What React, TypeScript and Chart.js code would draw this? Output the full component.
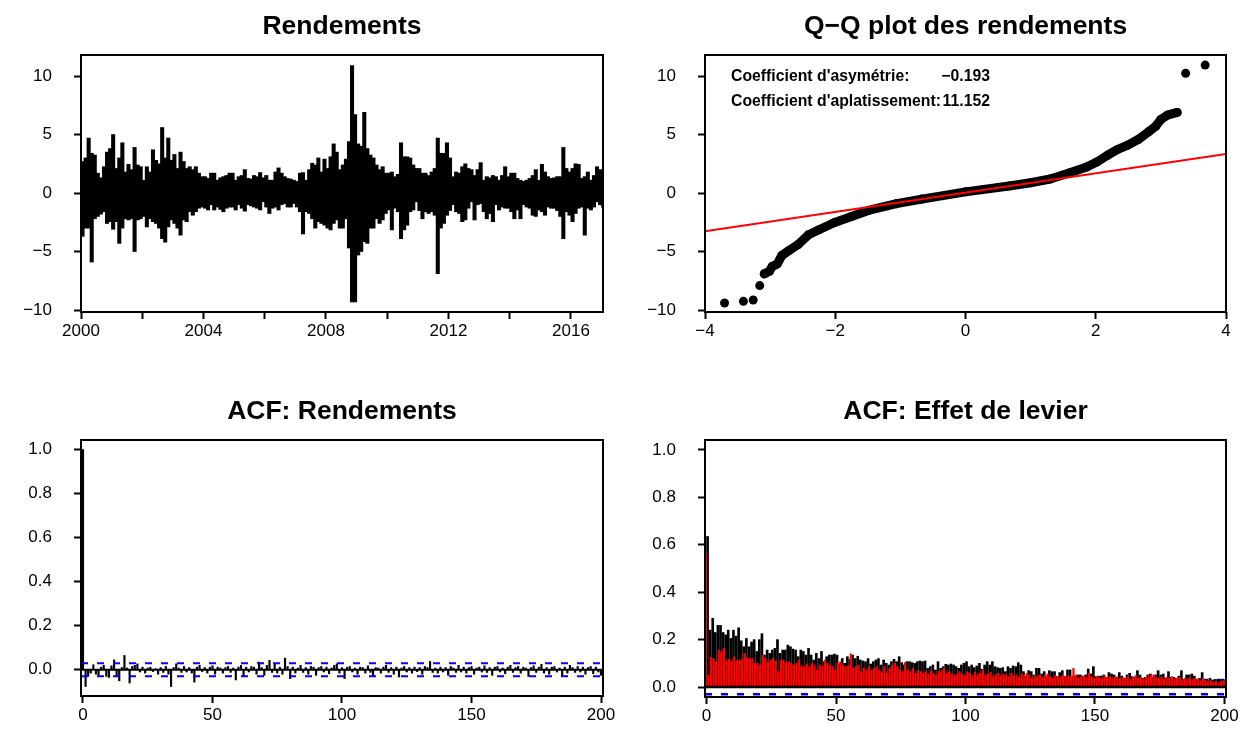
import React, { useEffect, useRef } from "react";
import { Chart, registerables } from "chart.js";
Chart.register(...registerables);

const FONT = '"Liberation Sans", Arial, Helvetica, sans-serif';
const MINUS = "\u2212";
const TICK_SIZE = 17;
const TITLE_SIZE = 26.5;

// ---------- Panel 1: Rendements (range of daily returns per 0.1-year bin) ----------
const startYear = 2000;
const binStep = 0.1;
const retHigh = [
  2.7, 3.0, 4.7, 3.4, 3.25, 1.7, 1.3, 2.25, 3.5, 3.8,
  5.0, 2.1, 3.0, 4.3, 1.8, 2.45, 2.0, 3.9, 2.4, 2.25,
  1.1, 2.25, 1.8, 3.7, 2.8, 2.5, 5.6, 3.0, 4.7, 2.8,
  3.3, 2.1, 3.5, 2.7, 2.1, 2.25, 2.0, 2.25, 1.7, 1.4,
  1.4, 1.25, 1.7, 1.7, 1.1, 1.3, 1.4, 1.5, 1.7, 1.7,
  1.1, 1.4, 1.5, 2.0, 1.25, 1.2, 1.5, 1.4, 1.75, 1.3,
  1.5, 1.1, 1.1, 1.8, 2.15, 1.7, 1.4, 1.25, 1.2, 1.1,
  1.0, 1.7, 1.75, 1.1, 2.0, 2.55, 2.4, 3.0, 1.8, 2.9,
  2.1, 3.1, 4.2, 3.5, 2.0, 2.4, 2.9, 4.4, 10.9, 6.7,
  4.2, 4.0, 6.9, 3.8, 3.25, 3.0, 2.4, 2.0, 2.25, 1.7,
  1.7, 1.8, 1.4, 1.6, 4.3, 3.1, 3.1, 3.0, 2.4, 2.1,
  2.1, 1.7, 1.7, 1.5, 1.8, 2.1, 4.7, 3.4, 3.4, 4.3,
  3.0, 1.4, 1.8, 1.7, 2.25, 2.5, 2.1, 2.0, 1.5, 2.0,
  2.6, 1.1, 1.4, 1.3, 1.5, 1.4, 1.1, 1.5, 2.25, 1.4,
  1.7, 1.7, 1.25, 1.1, 1.0, 1.1, 1.25, 1.5, 2.0, 1.1,
  2.45, 1.8, 1.4, 1.25, 1.3, 1.4, 1.4, 3.9, 2.1, 1.8,
  2.1, 2.5, 2.45, 1.25, 1.4, 1.8, 1.1, 1.5, 2.25, 2.0,
  1.5,
];
const retLow = [
  -3.7, -3.0, -3.0, -5.9, -2.2, -2.0, -1.8, -1.6, -2.6, -2.45,
  -3.1, -2.45, -4.3, -3.0, -2.2, -2.3, -2.2, -5.0, -2.3, -2.2,
  -2.0, -2.9, -2.2, -2.45, -2.6, -3.0, -3.9, -4.2, -2.9, -2.3,
  -2.6, -3.0, -3.6, -2.3, -2.45, -1.6, -1.9, -1.6, -1.3, -1.2,
  -1.3, -1.45, -1.0, -1.45, -1.2, -1.4, -1.6, -1.3, -1.2, -1.2,
  -1.45, -1.0, -1.3, -1.55, -1.0, -1.1, -1.2, -1.3, -1.45, -0.75,
  -1.2, -1.75, -1.3, -1.2, -1.45, -1.0, -0.9, -1.2, -1.2, -0.9,
  -1.2, -1.6, -3.5, -1.6, -1.75, -2.2, -3.0, -2.45, -2.6, -2.75,
  -3.0, -3.15, -2.6, -2.3, -3.0, -3.0, -2.2, -4.7, -9.3, -9.3,
  -5.3, -5.0, -4.15, -4.3, -3.0, -3.0, -2.2, -2.6, -2.3, -1.75,
  -1.45, -3.15, -1.3, -1.6, -3.9, -3.15, -2.75, -1.6, -1.45, -0.75,
  -1.5, -2.2, -1.6, -1.75, -1.6, -1.9, -6.9, -3.0, -2.6, -1.9,
  -1.5, -1.0, -1.6, -1.75, -2.45, -2.3, -1.3, -0.75, -2.3, -1.0,
  -0.9, -1.6, -2.2, -1.75, -2.45, -1.0, -1.45, -1.2, -1.3, -1.3,
  -1.6, -2.2, -1.45, -2.2, -1.0, -1.2, -1.3, -1.9, -2.0, -1.45,
  -1.6, -1.9, -1.2, -1.3, -1.3, -1.5, -2.0, -3.9, -1.6, -1.9,
  -2.45, -1.75, -1.3, -1.2, -3.6, -1.3, -1.45, -1.2, -0.75, -1.0,
  -1.2,
];
const yearTicks = [2000, 2002, 2004, 2006, 2008, 2010, 2012, 2014, 2016];
const yearLabelled = [2000, 2004, 2008, 2012, 2016];
const retTicks = [-10, -5, 0, 5, 10];

// ---------- Panel 2: Q-Q plot ----------
const qqTheo = [-3.09, -3.01, -2.97, -2.89, -2.82, -2.71, -2.57, -2.41, -2.25, -2.02, -1.75, -1.49, -1.06, -0.67, 0, 0.67, 1.0, 1.3, 1.59, 1.86, 2.02, 2.18, 2.33, 2.49, 2.65, 2.81, 2.92, 3.0, 3.1, 3.25];
const qqSample = [-6.91, -6.69, -6.29, -6.06, -5.34, -4.91, -4.4, -3.57, -3.14, -2.54, -2.0, -1.49, -0.91, -0.52, 0.1, 0.6, 0.88, 1.2, 1.71, 2.23, 2.66, 3.23, 3.71, 4.09, 4.57, 5.23, 5.71, 6.29, 6.66, 6.89];
const qqTailTheo = [-3.7, -3.41, -3.26, -3.16, 3.38, 3.68];
const qqTailSample = [-9.4, -9.26, -9.14, -7.91, 10.23, 10.94];
const qqLineTheo = [-4, 4];
const qqLineSample = [-3.26, 3.34];
const qqXTicks = [-4, -2, 0, 2, 4];
const statLabels = ["Coefficient d'asymétrie:", "Coefficient d'aplatissement:"];
const statValues = [MINUS + "0.193", "11.152"];

// ---------- Panel 3: ACF of returns ----------
const acfRet = [
  1.0, -0.076, -0.03, -0.015, 0.023, -0.02, -0.025, 0.012, 0.02, -0.03,
  -0.035, 0.018, 0.045, -0.03, -0.05, 0.01, 0.065, 0.008, -0.06, 0.015,
  0.02, 0.027, -0.01, 0.012, -0.015, 0.008, 0.012, -0.008, 0.005, -0.02,
  0.01, -0.012, 0.015, -0.02, -0.076, 0.01, 0.027, 0.008, -0.012, 0.015,
  -0.01, 0.01, -0.015, -0.056, 0.012, 0.02, -0.008, 0.01, -0.015, 0.012,
  0.018, -0.02, 0.012, 0.008, -0.015, 0.01, 0.015, -0.012, 0.008, -0.046,
  0.012, 0.02, -0.03, 0.012, -0.01, 0.015, 0.012, -0.02, 0.035, 0.01,
  -0.025, 0.02, 0.043, -0.012, 0.025, -0.015, 0.012, -0.02, 0.053, 0.015,
  -0.04, 0.012, -0.015, 0.008, 0.02, -0.012, 0.01, -0.02, 0.015, 0.012,
  -0.025, 0.01, 0.015, -0.01, 0.012, -0.018, 0.008, 0.02, 0.027, -0.015,
  0.01, -0.04, 0.012, 0.015, -0.01, 0.008, -0.02, 0.012, 0.01, -0.015,
  0.018, -0.012, -0.03, 0.01, 0.008, -0.015, 0.012, 0.02, -0.012, 0.01,
  -0.02, 0.012, -0.033, 0.008, 0.015, -0.01, 0.01, -0.015, 0.012, -0.008,
  0.01, -0.02, 0.015, 0.01, 0.038, -0.012, 0.008, -0.015, 0.012, -0.01,
  0.01, -0.025, 0.015, 0.008, -0.012, 0.02, -0.01, 0.012, -0.015, 0.01,
  0.015, -0.02, 0.008, 0.012, -0.01, 0.018, -0.012, 0.01, -0.025, 0.012,
  0.015, -0.01, 0.008, -0.018, 0.012, 0.02, -0.012, 0.01, 0.015, -0.015,
  0.012, 0.008, -0.03, 0.01, 0.018, -0.012, 0.012, 0.025, -0.015, 0.01,
  -0.02, 0.012, 0.015, -0.01, 0.008, -0.028, 0.012, -0.015, 0.02, 0.01,
  -0.012, 0.015, -0.01, 0.012, -0.02, 0.01, 0.015, -0.018, 0.012, -0.01,
  -0.025,
];
const ciBound = 0.0299;
const lagTicks = [0, 50, 100, 150, 200];
const acfTicks = [0, 0.2, 0.4, 0.6, 0.8, 1.0];

// ---------- Panel 4: ACF leverage effect ----------
const levBlack = [
  0.635, 0.24, 0.29, 0.23, 0.26, 0.26, 0.23, 0.22, 0.24, 0.205,
  0.24, 0.215, 0.25, 0.195, 0.17, 0.205, 0.17, 0.19, 0.2, 0.15,
  0.2, 0.225, 0.135, 0.156, 0.142, 0.156, 0.163, 0.2, 0.142, 0.156,
  0.156, 0.177, 0.17, 0.16, 0.156, 0.128, 0.156, 0.15, 0.135, 0.163,
  0.135, 0.114, 0.142, 0.12, 0.15, 0.107, 0.128, 0.135, 0.135, 0.139,
  0.135, 0.097, 0.12, 0.1, 0.128, 0.117, 0.135, 0.12, 0.13, 0.114,
  0.11, 0.107, 0.12, 0.097, 0.107, 0.114, 0.12, 0.093, 0.114, 0.1,
  0.093, 0.107, 0.117, 0.107, 0.128, 0.103, 0.093, 0.107, 0.107, 0.103,
  0.1, 0.107, 0.11, 0.107, 0.11, 0.079, 0.086, 0.093, 0.072, 0.107,
  0.079, 0.086, 0.096, 0.093, 0.097, 0.093, 0.086, 0.079, 0.093, 0.1,
  0.107, 0.086, 0.093, 0.082, 0.089, 0.1, 0.075, 0.093, 0.107, 0.093,
  0.107, 0.086, 0.082, 0.079, 0.082, 0.065, 0.086, 0.079, 0.089, 0.086,
  0.103, 0.093, 0.065, 0.046, 0.069, 0.065, 0.051, 0.079, 0.079, 0.055,
  0.065, 0.044, 0.069, 0.065, 0.065, 0.044, 0.061, 0.069, 0.044, 0.072,
  0.072, 0.044, 0.046, 0.051, 0.051, 0.044, 0.051, 0.076, 0.055, 0.086,
  0.044, 0.046, 0.046, 0.051, 0.041, 0.061, 0.055, 0.051, 0.041, 0.061,
  0.046, 0.037, 0.051, 0.058, 0.044, 0.041, 0.069, 0.051, 0.037, 0.041,
  0.051, 0.055, 0.041, 0.051, 0.069, 0.051, 0.055, 0.037, 0.065, 0.041,
  0.041, 0.037, 0.046, 0.069, 0.032, 0.051, 0.051, 0.055, 0.046, 0.032,
  0.037, 0.061, 0.032, 0.03, 0.037, 0.03, 0.032, 0.032, 0.03, 0.027,
  0.032,
];
const levRed = [
  0.565, 0.05, 0.125, 0.12, 0.107, 0.156, 0.149, 0.163, 0.114, 0.117,
  0.11, 0.128, 0.11, 0.114, 0.117, 0.142, 0.125, 0.12, 0.12, 0.1,
  0.1, 0.093, 0.135, 0.12, 0.107, 0.114, 0.12, 0.109, 0.065, 0.114,
  0.114, 0.103, 0.107, 0.1, 0.093, 0.1, 0.114, 0.089, 0.086, 0.097,
  0.086, 0.1, 0.093, 0.072, 0.093, 0.086, 0.114, 0.1, 0.093, 0.086,
  0.072, 0.103, 0.107, 0.093, 0.086, 0.089, 0.14, 0.079, 0.086, 0.093,
  0.065, 0.079, 0.072, 0.086, 0.069, 0.079, 0.086, 0.072, 0.065, 0.086,
  0.058, 0.079, 0.093, 0.1, 0.086, 0.072, 0.065, 0.103, 0.072, 0.065,
  0.079, 0.058, 0.069, 0.065, 0.058, 0.065, 0.055, 0.069, 0.058, 0.051,
  0.065, 0.069, 0.079, 0.058, 0.065, 0.055, 0.051, 0.055, 0.065, 0.055,
  0.051, 0.065, 0.058, 0.048, 0.062, 0.051, 0.058, 0.072, 0.051, 0.055,
  0.062, 0.044, 0.051, 0.058, 0.048, 0.055, 0.051, 0.044, 0.058, 0.048,
  0.051, 0.041, 0.055, 0.048, 0.058, 0.051, 0.037, 0.048, 0.044, 0.051,
  0.041, 0.048, 0.055, 0.044, 0.037, 0.048, 0.041, 0.044, 0.051, 0.041,
  0.048, 0.044, 0.079, 0.051, 0.037, 0.044, 0.048, 0.041, 0.058, 0.044,
  0.037, 0.044, 0.041, 0.037, 0.048, 0.041, 0.044, 0.037, 0.041, 0.044,
  0.034, 0.041, 0.037, 0.044, 0.034, 0.041, 0.048, 0.037, 0.041, 0.034,
  0.041, 0.048, 0.051, 0.051, 0.041, 0.037, 0.044, 0.034, 0.041, 0.037,
  0.044, 0.034, 0.037, 0.041, 0.03, 0.037, 0.034, 0.041, 0.03, 0.037,
  0.034, 0.027, 0.034, 0.03, 0.024, 0.027, 0.02, 0.024, 0.017, 0.024,
  0.027,
];

const titles = ["Rendements", "Q\u2212Q plot des rendements", "ACF: Rendements", "ACF: Effet de levier"];

// ---------- helpers ----------
const signed = (v: number, d: number) => (v < 0 ? MINUS : "") + Math.abs(v).toFixed(d);

function axis(
  pos: "left" | "bottom",
  min: number,
  max: number,
  ticks: number[],
  label: (v: number) => string,
  size: number
): any {
  return {
    type: "linear",
    position: pos,
    min,
    max,
    offset: false,
    afterBuildTicks: (s: any) => {
      s.ticks = ticks.map((v) => ({ value: v }));
    },
    afterFit: (s: any) => {
      if (pos === "left") s.width = size;
      else s.height = size;
    },
    grid: {
      offset: false,
      drawOnChartArea: false,
      drawTicks: true,
      tickLength: 7,
      tickWidth: 2,
      tickColor: "#000",
    },
    border: { display: false },
    ticks: {
      color: "#000",
      font: { family: FONT, size: TICK_SIZE },
      padding: pos === "left" ? 22 : 2,
      autoSkip: false,
      maxRotation: 0,
      minRotation: 0,
      callback: (v: any) => label(Number(v)),
    },
  };
}

function framePlugin(title: string, extra?: (ctx: CanvasRenderingContext2D, a: any) => void) {
  return {
    id: "frame",
    afterDraw(chart: any) {
      const ctx = chart.ctx as CanvasRenderingContext2D;
      const a = chart.chartArea;
      ctx.save();
      ctx.strokeStyle = "#000";
      ctx.lineWidth = 2;
      ctx.strokeRect(a.left, a.top, a.right - a.left, a.bottom - a.top);
      ctx.fillStyle = "#000";
      ctx.font = `bold ${TITLE_SIZE}px ${FONT}`;
      ctx.textAlign = "center";
      ctx.textBaseline = "alphabetic";
      ctx.fillText(title, (a.left + a.right) / 2, a.top - 21);
      if (extra) extra(ctx, a);
      ctx.restore();
    },
  };
}

const baseOptions = (padTop: number, padRight: number) => ({
  responsive: false,
  animation: false as const,
  events: [] as any[],
  layout: { padding: { top: padTop, right: padRight, left: 0, bottom: 0 } },
  plugins: { legend: { display: false }, tooltip: { enabled: false }, title: { display: false } },
});

// ---------- configs ----------
function configReturns(): any {
  const ranges = retHigh.map((h, k) => ({ x: startYear + (k + 0.5) * binStep, y: [retLow[k], h] }));
  const xMin = 2000;
  const xMax = 2017.045;
  return {
    type: "bar",
    data: {
      datasets: [
        {
          data: ranges,
          backgroundColor: "#000",
          borderWidth: 0,
          barThickness: 3.4,
        },
      ],
    },
    options: {
      ...baseOptions(55, 20),
      scales: {
        x: axis("bottom", xMin, xMax, yearTicks, (v) => (yearLabelled.includes(Math.round(v)) ? String(Math.round(v)) : ""), 62),
        y: axis("left", -10.17, 11.8, retTicks, (v) => signed(v, 0), 81),
      },
    },
    plugins: [framePlugin(titles[0])],
  };
}

function configQQ(): any {
  const curve = qqTheo.map((x, i) => ({ x, y: qqSample[i] }));
  const tails = qqTailTheo.map((x, i) => ({ x, y: qqTailSample[i] }));
  const qline = qqLineTheo.map((x, i) => ({ x, y: qqLineSample[i] }));
  return {
    type: "scatter",
    data: {
      datasets: [
        {
          data: qline,
          showLine: true,
          borderColor: "#ff0000",
          borderWidth: 2,
          pointRadius: 0,
          order: 1,
        },
        {
          data: curve,
          showLine: true,
          borderColor: "#000",
          backgroundColor: "#000",
          borderWidth: 9,
          borderCapStyle: "round",
          borderJoinStyle: "round",
          pointRadius: 4.5,
          pointBorderWidth: 0,
          pointBackgroundColor: "#000",
          order: 2,
        },
        {
          data: tails,
          showLine: false,
          pointRadius: 4.5,
          pointBorderWidth: 0,
          pointBackgroundColor: "#000",
          order: 2,
        },
      ],
    },
    options: {
      ...baseOptions(55, 20),
      scales: {
        x: axis("bottom", -4, 4, qqXTicks, (v) => signed(v, 0), 62),
        y: axis("left", -10.17, 11.8, retTicks, (v) => signed(v, 0), 82),
      },
    },
    plugins: [
      framePlugin(titles[1], (ctx, a) => {
        ctx.font = `bold 15.8px ${FONT}`;
        ctx.textBaseline = "alphabetic";
        statLabels.forEach((t, i) => {
          ctx.textAlign = "left";
          ctx.fillText(t, a.left + 26, a.top + 26 + i * 25);
          ctx.textAlign = "right";
          ctx.fillText(statValues[i], a.left + 285, a.top + 26 + i * 25);
        });
      }),
    ],
  };
}

function configAcfRet(): any {
  const xMin = -0.77;
  const xMax = 200.77;
  const bars = acfRet.map((v, lag) => ({ x: lag, y: v }));
  return {
    type: "bar",
    data: {
      datasets: [
        { type: "bar", data: bars, backgroundColor: "#000", barThickness: 1.5, order: 3 },
        {
          type: "line",
          data: [{ x: xMin, y: 0 }, { x: xMax, y: 0 }],
          borderColor: "#000",
          borderWidth: 2,
          pointRadius: 0,
          order: 2,
        },
        {
          type: "line",
          data: [{ x: xMin, y: ciBound }, { x: xMax, y: ciBound }],
          borderColor: "#0000ff",
          borderWidth: 2,
          borderDash: [7, 9],
          pointRadius: 0,
          order: 1,
        },
        {
          type: "line",
          data: [{ x: xMin, y: -ciBound }, { x: xMax, y: -ciBound }],
          borderColor: "#0000ff",
          borderWidth: 2,
          borderDash: [7, 9],
          pointRadius: 0,
          order: 1,
        },
      ],
    },
    options: {
      ...baseOptions(66, 20),
      scales: {
        x: axis("bottom", xMin, xMax, lagTicks, (v) => String(Math.round(v)), 51),
        y: axis("left", -0.119, 1.043, acfTicks, (v) => v.toFixed(1), 81),
      },
    },
    plugins: [framePlugin(titles[2])],
  };
}

function configLev(): any {
  const xMin = -0.6;
  const xMax = 200.6;
  const black = levBlack.map((v, lag) => ({ x: lag, y: v }));
  const red = levRed.map((v, lag) => ({ x: lag, y: v }));
  return {
    type: "bar",
    data: {
      datasets: [
        { type: "bar", data: red, backgroundColor: "#ff0000", barThickness: 1.6, order: 2 },
        { type: "bar", data: black, backgroundColor: "#000", barThickness: 2, order: 3 },
        {
          type: "line",
          data: [{ x: xMin, y: 0 }, { x: xMax, y: 0 }],
          borderColor: "#000",
          borderWidth: 2.5,
          pointRadius: 0,
          order: 1,
        },
        {
          type: "line",
          data: [{ x: xMin, y: ciBound }, { x: xMax, y: ciBound }],
          borderColor: "#0000ff",
          borderWidth: 2.5,
          borderDash: [7, 9],
          pointRadius: 0,
          order: 5,
        },
        {
          type: "line",
          data: [{ x: xMin, y: -ciBound }, { x: xMax, y: -ciBound }],
          borderColor: "#0000ff",
          borderWidth: 2.5,
          borderDash: [7, 9],
          pointRadius: 0,
          order: 5,
        },
      ],
    },
    options: {
      ...baseOptions(66, 20),
      scales: {
        x: axis("bottom", xMin, xMax, lagTicks, (v) => String(Math.round(v)), 50),
        y: axis("left", -0.042, 1.042, acfTicks, (v) => v.toFixed(1), 82),
      },
    },
    plugins: [framePlugin(titles[3])],
  };
}

export default function App() {
  const r1 = useRef<HTMLCanvasElement>(null);
  const r2 = useRef<HTMLCanvasElement>(null);
  const r3 = useRef<HTMLCanvasElement>(null);
  const r4 = useRef<HTMLCanvasElement>(null);

  useEffect(() => {
    const charts = [
      new Chart(r1.current as HTMLCanvasElement, configReturns()),
      new Chart(r2.current as HTMLCanvasElement, configQQ()),
      new Chart(r3.current as HTMLCanvasElement, configAcfRet()),
      new Chart(r4.current as HTMLCanvasElement, configLev()),
    ];
    return () => charts.forEach((c) => c.destroy());
  }, []);

  const cs = (left: number, top: number, w: number, h: number): React.CSSProperties => ({
    position: "absolute",
    left,
    top,
    width: w,
    height: h,
    display: "block",
  });

  return (
    <div style={{ position: "absolute", left: 0, top: 0, width: 1246, height: 747, background: "#fff", overflow: "hidden" }}>
      <canvas ref={r1} width={623} height={374} style={cs(0, 0, 623, 374)} />
      <canvas ref={r2} width={623} height={374} style={cs(623, 0, 623, 374)} />
      <canvas ref={r3} width={623} height={373} style={cs(0, 374, 623, 373)} />
      <canvas ref={r4} width={623} height={373} style={cs(623, 374, 623, 373)} />
    </div>
  );
}
